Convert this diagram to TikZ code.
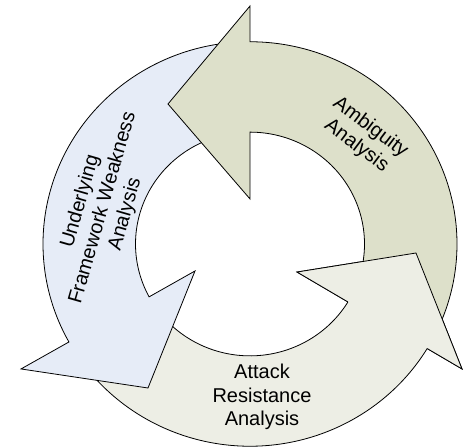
\documentclass[tikz,border=0pt]{standalone}
\usepackage{fontspec}
\setmainfont{Liberation Sans}
\definecolor{bluefill}{RGB}{230,236,247}
\definecolor{greenfill}{RGB}{221,224,202}
\definecolor{beigefill}{RGB}{237,238,229}
\begin{document}
\begin{tikzpicture}[x=1pt,y=1pt,
  arrowshape/.style={draw=black, line width=0.8pt, line join=miter},
  outline/.style={draw=black, line width=0.8pt, line join=miter},
  lbl/.style={font=\fontsize{20}{23.3}\selectfont, align=center, inner sep=0pt}]
\useasboundingbox (0,0) rectangle (469,447);
\begin{scope}[shift={(250,203)}, yscale=0.977]
  % Attack Resistance arrow (bottom, pointing up-right)
  \path[arrowshape, fill=beigefill]
    (214:207) arc[start angle=214, end angle=328.87, radius=207pt]
    -- (212,-127.9) -- (166,-9.2) -- (47,-28.7)
    -- (328.8:114.5) arc[start angle=328.8, end angle=214, radius=114.5pt] -- cycle;
  % Underlying Framework Weakness arrow (left, pointing down)
  \path[arrowshape, fill=bluefill]
    (94:207) arc[start angle=94, end angle=208.98, radius=207pt]
    -- (-229,-127.9) -- (-102,-147.4) -- (-55,-27.6)
    -- (208.2:114.5) arc[start angle=208.2, end angle=94, radius=114.5pt] -- cycle;
  % Ambiguity arrow (right, pointing left at the top)
  \path[arrowshape, fill=greenfill]
    (-25:207) arc[start angle=-25, end angle=90, radius=207pt]
    -- (0,243.6) -- (-82,143.3) -- (0,46.1)
    -- (90:114.5) arc[start angle=90, end angle=-25, radius=114.5pt] -- cycle;
  % head of the Attack Resistance arrow laid over the Ambiguity tail
  \fill[beigefill] (212,-127.9) -- (166,-9.2) -- (47,-28.7) -- cycle;
  \path[outline] (328.8:114.5) -- (47,-28.7) -- (166,-9.2) -- (212,-127.9) -- (328.87:207);
\end{scope}
\node[lbl, rotate=-37] (ambig) at (363.4,310.3) {Ambiguity\\Analysis};
\node[lbl, rotate=74] (under) at (103,239) {Underlying\\Framework Weakness\\Analysis};
\node[lbl] (attack) at (262,50) {Attack\\Resistance\\Analysis};
\end{tikzpicture}
\end{document}
